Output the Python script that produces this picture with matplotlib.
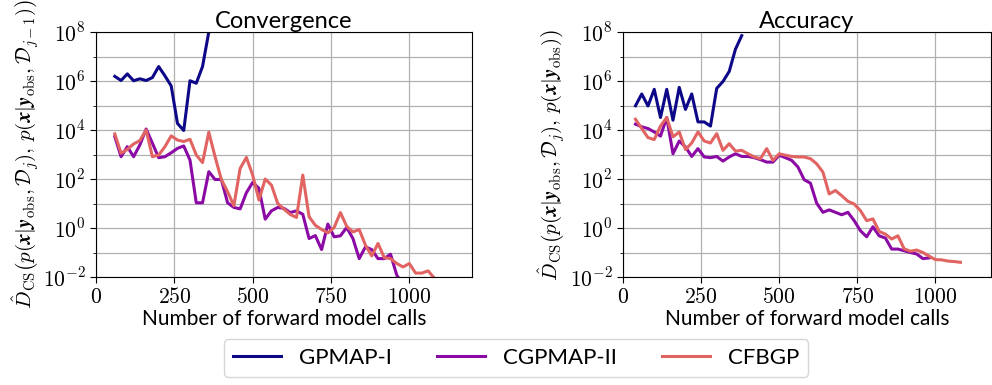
import numpy as np
import matplotlib
matplotlib.use("Agg")
import matplotlib.pyplot as plt
from matplotlib.ticker import FixedLocator, FuncFormatter

plt.rcParams['mathtext.fontset'] = 'cm'
plt.rcParams['font.family'] = ['Lato', 'DejaVu Sans']

# ---------------------------------------------------------
# DATA (log10 of the divergence)
# ---------------------------------------------------------
conv_x_gp = [60, 80, 100, 120, 140, 160, 180, 200, 220, 240, 260, 280, 300, 320, 340, 360, 380]
conv_gp = [6.19, 6.02, 6.29, 6.01, 6.09, 6.02, 6.14, 6.59, 6.21, 5.80, 4.27, 3.98, 6.01, 5.91,
           6.59, 8.0, 9.2]

conv_x_cg = list(range(60, 1000, 20))
conv_cg = [3.73, 2.91, 3.32, 2.91, 3.39, 4.04, 3.46, 2.87, 2.91, 3.07, 3.25, 3.35, 2.77, 1.03,
           1.03, 2.30, 1.98, 1.98, 1.03, 0.84, 0.78, 1.44, 1.86, 1.62, 0.36, 0.70, 0.84, 0.80,
           0.63, 0.70, 0.56, -0.43, -0.31, -0.88, 0.16, -0.36, -0.32, 0.02, -0.43, -1.25,
           -0.77, -0.88, -1.25, -1.25, -1.07, -1.93, -2.3]

conv_x_cf = list(range(60, 1100, 20))
conv_cf = [3.84, 3.05, 3.21, 3.43, 3.57, 4.00, 2.91, 2.98, 3.32, 3.76, 3.59, 3.53, 3.62, 2.98,
           2.67, 3.91, 2.91, 1.98, 1.48, 0.91, 2.43, 2.88, 2.16, 1.14, 2.00, 1.75, 1.00, 0.77,
           0.55, 0.43, 2.16, 0.46, 0.11, -0.06, -0.20, 0.02, 0.63, 0.07, -0.16, -0.06, -0.70,
           -1.14, -0.63, -1.21, -1.25, -1.45, -1.59, -1.45, -1.84, -1.84, -1.75, -2.05]

acc_x_gp = list(range(40, 400, 20))
acc_gp = [4.99, 5.47, 4.98, 5.66, 4.51, 5.66, 4.40, 5.74, 4.84, 5.47, 4.33, 4.33, 4.16, 5.70,
          5.98, 6.39, 7.30, 7.85]

acc_x_cg = list(range(40, 1000, 20))
acc_cg = [4.24, 4.13, 4.06, 3.92, 3.75, 4.51, 3.03, 3.55, 3.31, 2.92, 3.24, 2.90, 2.87, 2.92,
          2.73, 2.90, 3.03, 2.92, 2.92, 2.87, 2.79, 2.69, 2.69, 2.97, 2.87, 2.76, 2.49, 1.97,
          1.83, 1.01, 0.64, 0.74, 0.64, 0.54, 0.64, 0.30, -0.11, -0.36, 0.05, -0.32, -0.41,
          -0.86, -0.86, -0.93, -1.00, -1.06, -1.25, -1.22]

acc_x_cf = list(range(40, 1100, 20))
acc_cf = [4.44, 4.06, 3.69, 3.61, 4.16, 4.51, 3.72, 3.92, 3.20, 3.47, 3.92, 3.55, 3.47, 3.85,
          3.17, 3.44, 3.14, 3.17, 3.03, 2.90, 2.83, 3.24, 2.76, 3.03, 2.97, 2.92, 2.90, 2.90,
          2.83, 2.62, 2.28, 1.39, 1.53, 1.32, 1.09, 0.98, 0.71, 0.30, 0.37, -0.14, -0.25,
          -0.45, -0.32, -0.85, -0.95, -0.90, -1.00, -1.15, -1.29, -1.30, -1.35, -1.37, -1.40]

labels = ["GPMAP-I", "CGPMAP-II", "CFBGP"]
colors = ["#0d0887", "#8b0aa5", "#e16462"]

# ---------------------------------------------------------
# FIGURE
# ---------------------------------------------------------
fig = plt.figure(figsize=(9.92, 3.85), dpi=100)
ax1 = fig.add_axes([96 / 992, 1 - 277 / 385, (472 - 96) / 992, 245 / 385])
ax2 = fig.add_axes([623 / 992, 1 - 277 / 385, (991 - 623) / 992, 245 / 385])

series = [
    (ax1, [(conv_x_gp, conv_gp), (conv_x_cg, conv_cg), (conv_x_cf, conv_cf)], (0, 1200)),
    (ax2, [(acc_x_gp, acc_gp), (acc_x_cg, acc_cg), (acc_x_cf, acc_cf)], (0, 1178)),
]

for ax, data, xlim in series:
    for (xs, ys), lab, col in zip(data, labels, colors):
        ax.plot(xs, 10.0 ** np.array(ys), color=col, lw=2.2, label=lab)
    ax.set_yscale('log')
    ax.set_ylim(1e-2, 1e8)
    ax.set_xlim(*xlim)
    ax.yaxis.set_major_locator(FixedLocator([10.0 ** k for k in range(-2, 9, 2)]))
    ax.yaxis.set_minor_locator(FixedLocator([10.0 ** k for k in range(-1, 8, 2)]))
    ax.yaxis.set_minor_formatter(FuncFormatter(lambda v, p: ""))
    ax.yaxis.set_major_formatter(FuncFormatter(lambda v, p: r"$10^{%d}$" % round(np.log10(v))))
    ax.set_xticks([0, 250, 500, 750, 1000])
    ax.xaxis.set_major_formatter(FuncFormatter(lambda v, p: r"$%d$" % v))
    ax.tick_params(labelsize=15.5, length=4)
    ax.tick_params(which='minor', length=2.5)
    ax.grid(True, which='both', color='#b0b0b0', lw=0.9)
    ax.set_axisbelow(True)
    ax.set_xlabel("Number of forward model calls", fontsize=15, labelpad=1)

ax1.set_title("Convergence", fontsize=17, pad=3)
ax2.set_title("Accuracy", fontsize=17, pad=3)

ax1.set_ylabel(r"$\hat{D}_{\mathrm{CS}}\left(p(\boldsymbol{x}|\boldsymbol{y}_{\mathrm{obs}},\mathcal{D}_j),\,"
               r"p(\boldsymbol{x}|\boldsymbol{y}_{\mathrm{obs}},\mathcal{D}_{j-1})\right)$",
               fontsize=15, labelpad=1)
ax2.set_ylabel(r"$\hat{D}_{\mathrm{CS}}\left(p(\boldsymbol{x}|\boldsymbol{y}_{\mathrm{obs}},\mathcal{D}_j),\,"
               r"p(\boldsymbol{x}|\boldsymbol{y}_{\mathrm{obs}})\right)$",
               fontsize=15, labelpad=2)

handles, labs = ax1.get_legend_handles_labels()
fig.legend(handles, labs, loc='center', bbox_to_anchor=(516 / 992, 1 - 358 / 385), ncol=3,
           fontsize=16, frameon=True, handlelength=2.2, columnspacing=2.0)

fig.savefig("out.png", dpi=100)
